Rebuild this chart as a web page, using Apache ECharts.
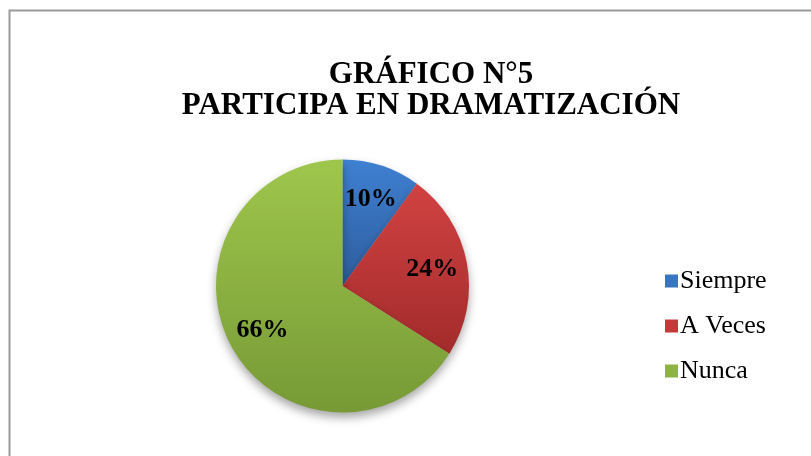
<!DOCTYPE html>
<html>
<head>
<meta charset="utf-8">
<script src="https://cdn.jsdelivr.net/npm/echarts@6/dist/echarts.min.js"></script>
<style>html,body{margin:0;padding:0;background:#fff}#c{width:811px;height:456px}</style>
</head>
<body>
<div id="c"></div>
<script>
const titleLines = ['GRÁFICO N°5', 'PARTICIPA EN DRAMATIZACIÓN'];
const categories = ['Siempre', 'A Veces', 'Nunca'];
const values = [10, 24, 66];
const topColors = ['#3f80d2', '#d14242', '#9fc64c'];
const bottomColors = ['#2d5d9c', '#a32b2b', '#779a36'];
const solidColors = ['#3a75c2', '#c23a3a', '#8db342'];

const chart = echarts.init(document.getElementById('c'), null, {renderer: 'canvas'});
const grad = i => new echarts.graphic.LinearGradient(0, 0, 0, 1, [
  {offset: 0, color: topColors[i]}, {offset: 1, color: bottomColors[i]}
]);
const serif = '"Liberation Serif", "Times New Roman", serif';

chart.setOption({
  animation: false,
  backgroundColor: '#ffffff',
  title: {
    text: titleLines.join('\n'),
    left: 426, top: 54, textAlign: 'center',
    textStyle: {fontFamily: serif, fontWeight: 'bold', fontSize: 31, lineHeight: 31, color: '#000'}
  },
  graphic: [{
    type: 'rect', shape: {x: 9.5, y: 10.5, width: 900, height: 600},
    style: {fill: 'none', stroke: '#9a9a9a', lineWidth: 2}, silent: true, z: -1
  }],
  legend: {
    orient: 'vertical', left: 660, top: 263,
    itemWidth: 13, itemHeight: 13, itemGap: 19,
    icon: 'rect',
    data: categories.map((c, i) => ({name: c, itemStyle: {color: solidColors[i]}})),
    textStyle: {fontFamily: serif, fontSize: 26, color: '#000', padding: [0, 0, 0, -3]}
  },
  series: [{
    type: 'pie', center: [342.5, 286], radius: [0, 126.5],
    startAngle: 90, clockwise: true,
    label: {show: false}, labelLine: {show: false},
    emphasis: {disabled: true},
    itemStyle: {shadowBlur: 10, shadowOffsetY: 5, shadowColor: 'rgba(0,0,0,0.35)'},
    data: categories.map((c, i) => ({name: c, value: values[i], itemStyle: {color: grad(i)}}))
  }, {
    type: 'pie', center: [342.5, 286], radius: [50, 126.5],
    startAngle: 90, clockwise: true, silent: true,
    legendHoverLink: false,
    label: {show: true, position: 'inside', formatter: '{d}%',
      fontFamily: serif, fontWeight: 'bold', fontSize: 26, color: '#000'},
    labelLine: {show: false},
    emphasis: {disabled: true},
    itemStyle: {color: 'rgba(0,0,0,0)'},
    data: categories.map((c, i) => ({name: c + ' ', value: values[i]}))
  }]
});
</script>
</body>
</html>
